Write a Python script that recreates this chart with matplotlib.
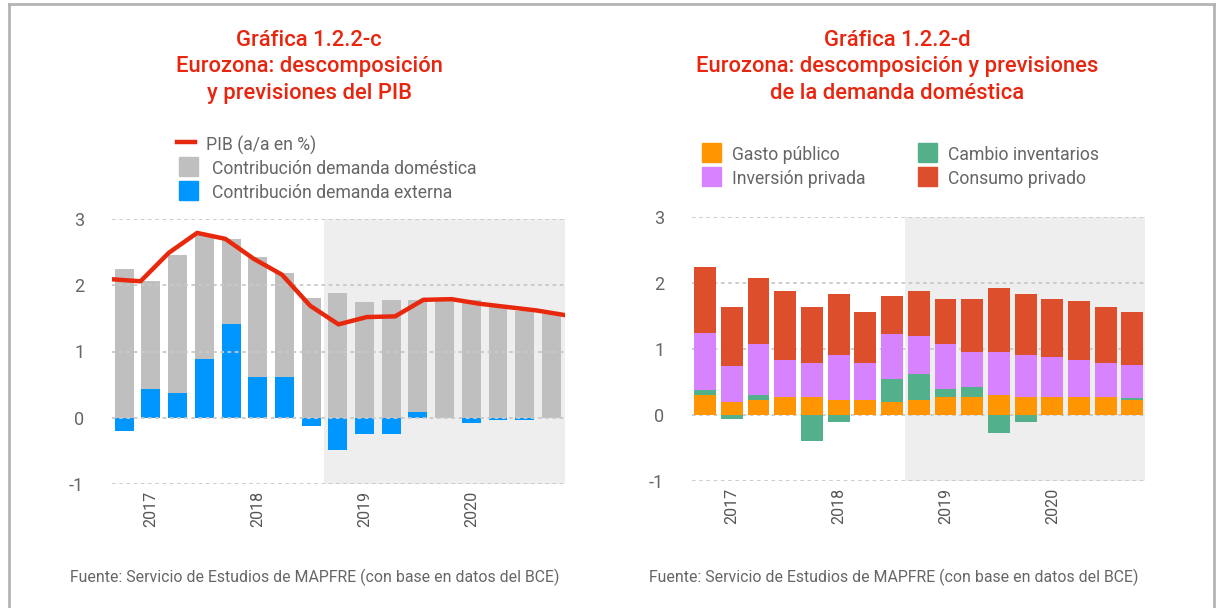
import numpy as np
import matplotlib
matplotlib.use("Agg")
import matplotlib.pyplot as plt
from matplotlib.patches import Rectangle
from matplotlib.lines import Line2D

plt.rcParams['font.family'] = ['Roboto', 'DejaVu Sans']

# quarters 2016-IV .. 2020-IV
years = ["2017", "2018", "2019", "2020"]
year_pos = [1, 5, 9, 13]

# Gráfica 1.2.2-c
dem_domestica = [2.25, 2.06, 2.46, 2.78, 2.70, 2.42, 2.18, 1.81, 1.89, 1.74, 1.77, 1.78, 1.78, 1.77, 1.68, 1.61, 1.56]
dem_externa = [-0.20, 0.44, 0.37, 0.89, 1.41, 0.61, 0.61, -0.13, -0.49, -0.25, -0.25, 0.08, 0.0, -0.08, -0.04, -0.04, 0.0]
pib = [2.09, 2.06, 2.49, 2.79, 2.70, 2.40, 2.16, 1.69, 1.41, 1.52, 1.53, 1.78, 1.79, 1.72, 1.67, 1.62, 1.55]

# Gráfica 1.2.2-d
gasto_publico = [0.31, 0.19, 0.23, 0.27, 0.27, 0.23, 0.23, 0.19, 0.23, 0.27, 0.27, 0.31, 0.27, 0.27, 0.27, 0.27, 0.23]
cambio_inv = [0.07, -0.06, 0.07, 0.0, -0.39, -0.10, 0.0, 0.36, 0.39, 0.12, 0.16, -0.27, -0.10, 0.0, 0.0, 0.0, 0.03]
inversion = [0.87, 0.55, 0.78, 0.57, 0.52, 0.68, 0.56, 0.68, 0.58, 0.69, 0.53, 0.65, 0.64, 0.61, 0.57, 0.52, 0.50]
consumo = [1.00, 0.90, 1.00, 1.04, 0.85, 0.93, 0.77, 0.58, 0.68, 0.68, 0.80, 0.97, 0.93, 0.88, 0.88, 0.85, 0.80]

W, H = 1222, 608
RED_T = '#e8250f'
TXT = '#666666'
GRID = '#c8c8c8'
SHADE = '#eeeeee'


def fx(x):
    return x / W


def fy(y):
    return 1 - y / H


def setup_axes(ax, xlim, grid_on_top):
    ax.set_xlim(*xlim)
    ax.set_ylim(-1, 3)
    ax.axvspan(7.5, xlim[1], color=SHADE, zorder=0, lw=0)
    for s in ax.spines.values():
        s.set_visible(False)
    ax.set_yticks([-1, 0, 1, 2, 3])
    ax.set_yticklabels(['-1', '0', '1', '2', '3'])
    ax.set_xticks(year_pos)
    ax.set_xticklabels(years, rotation=90)
    ax.tick_params(axis='y', length=0, pad=20, labelsize=13, labelcolor=TXT)
    ax.tick_params(axis='x', length=0, pad=5, labelsize=11.5, labelcolor='#555555')
    z = 4 if grid_on_top else 0.5
    for v in [-1, 0, 1, 2, 3]:
        ax.axhline(v, color=GRID, lw=1.3, ls=(0, (2, 2)), zorder=z)
    ax.set_facecolor('none')


fig = plt.figure(figsize=(W / 100, H / 100), dpi=100)

# left chart
x = np.arange(len(dem_domestica))
ax1 = fig.add_axes([fx(112), fy(484), fx(565) - fx(112), fy(219) - fy(484)])
setup_axes(ax1, (-0.46, 16.51), True)
ax1.bar(x, dem_domestica, width=0.71, color='#bfbfbf', zorder=2)
ax1.bar(x, dem_externa, width=0.71, color='#0096ff', zorder=3)
x_line = np.linspace(-0.45, 16.5, len(pib))
ax1.plot(x_line, pib, color='#e8280c', lw=3.2, zorder=5, solid_joinstyle='round')

# right chart
ax2 = fig.add_axes([fx(692), fy(481), fx(1145) - fx(692), fy(217) - fy(481)])
setup_axes(ax2, (-0.49, 16.47), False)
gp = np.array(gasto_publico)
ci = np.array(cambio_inv)
iv = np.array(inversion)
cp = np.array(consumo)
bw = 0.82
ax2.bar(x, gp, width=bw, color='#ff9500', zorder=2)
ci_pos = np.where(ci > 0, ci, 0)
ci_neg = np.where(ci < 0, ci, 0)
ax2.bar(x, ci_pos, width=bw, bottom=gp, color='#52b18a', zorder=2)
ax2.bar(x, ci_neg, width=bw, color='#52b18a', zorder=2)
ax2.bar(x, iv, width=bw, bottom=gp + ci_pos, color='#d783ff', zorder=2)
ax2.bar(x, cp, width=bw, bottom=gp + ci_pos + iv, color='#dc4e2c', zorder=2)

# titles
title_kw = dict(ha='center', va='center', color=RED_T, fontsize=15.8, fontweight='medium')
for cx, lines in [(309, ["Gráfica 1.2.2-c", "Eurozona: descomposición", "y previsiones del PIB"]),
                  (897, ["Gráfica 1.2.2-d", "Eurozona: descomposición y previsiones", "de la demanda doméstica"])]:
    for i, t in enumerate(lines):
        fig.text(fx(cx), fy(40 + i * 26.7), t, **title_kw)

# legends
leg_kw = dict(ha='left', va='center', color=TXT, fontsize=12.7)
fig.add_artist(Line2D([fx(177), fx(195)], [fy(142), fy(142)], color='#e8280c', lw=3.2))
fig.text(fx(206), fy(145), "PIB (a/a en %)", **leg_kw)
for y0, col, lab in [(157, '#bfbfbf', "Contribución demanda doméstica"),
                     (181, '#0096ff', "Contribución demanda externa")]:
    fig.add_artist(Rectangle((fx(179), fy(y0 + 19)), fx(19), 19 / H, color=col, transform=fig.transFigure))
    fig.text(fx(212), fy(y0 + 12), lab, **leg_kw)

for xs, xt, y0, col, lab in [(702, 732, 143, '#ff9500', "Gasto público"),
                             (702, 732, 167, '#d783ff', "Inversión privada"),
                             (918, 948, 143, '#52b18a', "Cambio inventarios"),
                             (918, 948, 167, '#dc4e2c', "Consumo privado")]:
    fig.add_artist(Rectangle((fx(xs), fy(y0 + 19)), fx(19), 19 / H, color=col, transform=fig.transFigure))
    fig.text(fx(xt), fy(y0 + 12), lab, **leg_kw)

# footers
src = "Fuente: Servicio de Estudios de MAPFRE (con base en datos del BCE)"
fig.text(fx(70), fy(577), src, ha='left', va='center', color=TXT, fontsize=11.4)
fig.text(fx(649), fy(577), src, ha='left', va='center', color=TXT, fontsize=11.4)

# frame
fc = '#b4b4b4'
fig.add_artist(Line2D([fx(9), fx(9)], [0, fy(4)], color=fc, lw=2))
fig.add_artist(Line2D([fx(9), fx(1214)], [fy(4), fy(4)], color=fc, lw=2))
fig.add_artist(Line2D([fx(1214), fx(1214)], [0, fy(4)], color=fc, lw=2))

fig.savefig('out.png', dpi=100)
